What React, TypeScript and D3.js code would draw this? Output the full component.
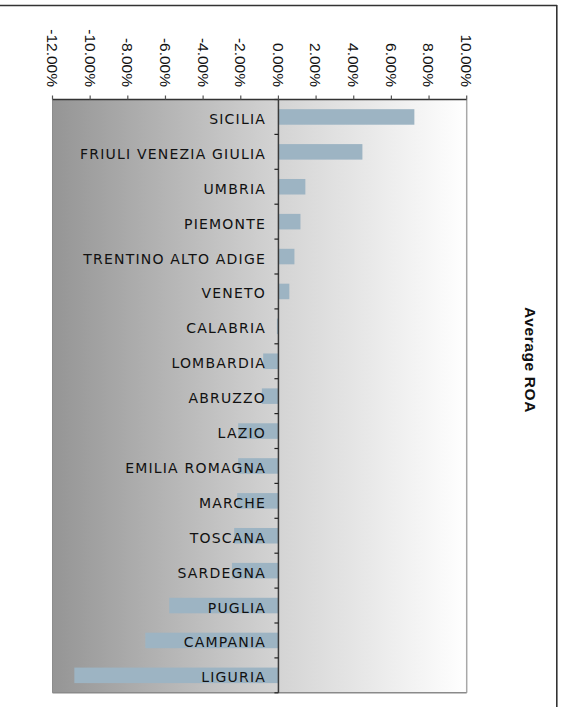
import React from "react";
import * as d3 from "d3";

const categories = [
  "SICILIA",
  "FRIULI VENEZIA GIULIA",
  "UMBRIA",
  "PIEMONTE",
  "TRENTINO ALTO ADIGE",
  "VENETO",
  "CALABRIA",
  "LOMBARDIA",
  "ABRUZZO",
  "LAZIO",
  "EMILIA ROMAGNA",
  "MARCHE",
  "TOSCANA",
  "SARDEGNA",
  "PUGLIA",
  "CAMPANIA",
  "LIGURIA",
];
const values = [
  7.22, 4.46, 1.43, 1.17, 0.85, 0.58, -0.08, -0.81, -0.88, -2.14, -2.14, -2.19,
  -2.35, -2.47, -5.8, -7.07, -10.84,
];
const tickValues = [-12, -10, -8, -6, -4, -2, 0, 2, 4, 6, 8, 10];
const title = "Average ROA";

const W = 565;
const H = 707;
const plot = { left: 52.5, right: 466.7, top: 99.5, bottom: 692.8 };

export default function App() {
  const x = d3.scaleLinear().domain([-12, 10]).range([plot.left, plot.right]);
  const y = d3
    .scaleBand<string>()
    .domain(categories)
    .range([plot.top, plot.bottom])
    .paddingInner(0.555)
    .paddingOuter(0.2775);
  const step = y.step();
  const x0 = x(0);
  const fmt = (v: number) => v.toFixed(2) + "%";

  return (
    <svg
      width={W}
      height={H}
      style={{ position: "absolute", left: 0, top: 0, display: "block" }}
    >
      <defs>
        <linearGradient id="bg" x1="0" y1="0" x2="1" y2="0">
          <stop offset="0" stopColor="#959595" />
          <stop offset="0.55" stopColor="#d4d4d4" />
          <stop offset="1" stopColor="#ffffff" />
        </linearGradient>
      </defs>
      <rect x={0} y={0} width={W} height={H} fill="#ffffff" />
      {/* outer chart border (partly off-canvas) */}
      <line x1={0} x2={557} y1={5.5} y2={5.5} stroke="#333" strokeWidth={1.6} />
      <line x1={556.8} x2={556.8} y1={5} y2={H} stroke="#333" strokeWidth={1.6} />

      {/* plot background */}
      <rect
        x={plot.left}
        y={plot.top}
        width={plot.right - plot.left}
        height={plot.bottom - plot.top}
        fill="url(#bg)"
      />
      <line x1={plot.right} x2={plot.right} y1={plot.top} y2={plot.bottom} stroke="#a8a8a8" strokeWidth={1.5} />
      <line x1={plot.left} x2={plot.right} y1={plot.bottom} y2={plot.bottom} stroke="#8a8a8a" strokeWidth={1.5} />
      <line x1={plot.left} x2={plot.left} y1={plot.top} y2={plot.bottom} stroke="#8c8c8c" strokeWidth={1} />

      {/* bars */}
      {categories.map((c, i) => {
        const v = values[i];
        const xa = x(Math.min(0, v));
        const xb = x(Math.max(0, v));
        return (
          <rect
            key={c}
            x={xa}
            y={y(c)!}
            width={Math.max(0.6, xb - xa)}
            height={y.bandwidth()}
            fill="#9db4c3"
          />
        );
      })}

      {/* category labels */}
      {categories.map((c) => (
        <text
          key={c}
          x={266}
          y={y(c)! + y.bandwidth() / 2 + 7}
          textAnchor="end"
          fontFamily="DejaVu Sans, Verdana, sans-serif"
          fontSize={14}
          letterSpacing={1.2}
          fill="#111"
        >
          {c}
        </text>
      ))}

      {/* y axis at zero */}
      <line x1={x0} x2={x0} y1={plot.top} y2={plot.bottom} stroke="#3a3a3a" strokeWidth={1.5} />
      {d3.range(categories.length + 1).map((i) => {
        const yy = plot.top + i * step;
        return (
          <line key={i} x1={x0 - 4} x2={x0} y1={yy} y2={yy} stroke="#222" strokeWidth={1.2} />
        );
      })}

      {/* top x axis */}
      <line x1={plot.left} x2={plot.right} y1={plot.top} y2={plot.top} stroke="#333" strokeWidth={1.5} />
      {tickValues.map((t) => (
        <line key={t} x1={x(t)} x2={x(t)} y1={plot.top - 4} y2={plot.top} stroke="#555" strokeWidth={1.2} />
      ))}
      {tickValues.map((t) => (
        <text
          key={t}
          transform={`translate(${x(t)},87) rotate(90)`}
          textAnchor="end"
          dy="0.36em"
          fontFamily="Liberation Sans, Arial, sans-serif"
          fontSize={15.5}
          fill="#111"
        >
          {fmt(t)}
        </text>
      ))}

      {/* title */}
      <text
        transform={`translate(531,360) rotate(90)`}
        textAnchor="middle"
        dy="0.36em"
        fontFamily="Liberation Sans, Arial, sans-serif"
        fontWeight="bold"
        fontSize={15.5}
        letterSpacing={0.6}
        fill="#111"
      >
        {title}
      </text>
    </svg>
  );
}
